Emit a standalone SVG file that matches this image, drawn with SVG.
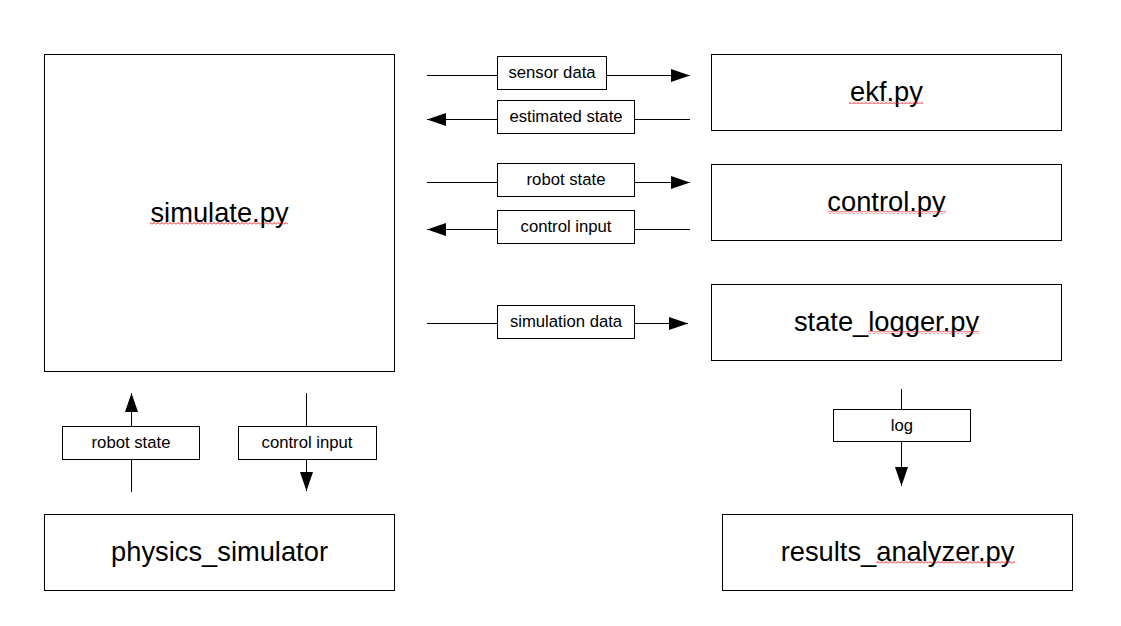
<svg xmlns="http://www.w3.org/2000/svg" width="1121" height="626" viewBox="0 0 1121 626">
<style>
.node{fill:#fff;stroke:#000;stroke-width:1}
.big{font-family:"Liberation Sans",Arial,sans-serif;font-size:27.3px;fill:#000;text-anchor:middle}
.lbl{font-family:"Liberation Sans",Arial,sans-serif;font-size:16.7px;fill:#000;text-anchor:middle}
.line{stroke:#000;stroke-width:1;fill:none}
.lblbox{fill:#fff;stroke:#000;stroke-width:1}
.squig{fill:url(#sq)}
</style>
<defs>
<pattern id="sq" width="4" height="3" patternUnits="userSpaceOnUse">
<path d="M0,2.5 L2,0.5 L4,2.5" fill="none" stroke="#e00" stroke-width="0.9"/>
</pattern>
<marker id="ah" markerWidth="19" markerHeight="13" refX="19" refY="6.5" orient="auto" markerUnits="userSpaceOnUse">
<path d="M0,0 L19,6.5 L0,13 Z" fill="#000"/>
</marker>
</defs>
<rect width="1121" height="626" fill="#fff"/>

<g id="connectors">
<g id="c-sensor">
<line class="line" x1="427" y1="75.5" x2="690" y2="75.5" marker-end="url(#ah)"/>
<rect class="lblbox" x="497.5" y="56.5" width="109" height="33"/>
<text class="lbl" x="552" y="78">sensor data</text>
</g>
<g id="c-estimated">
<line class="line" x1="690" y1="119.5" x2="427" y2="119.5" marker-end="url(#ah)"/>
<rect class="lblbox" x="497.5" y="100.5" width="137" height="33"/>
<text class="lbl" x="566" y="122">estimated state</text>
</g>
<g id="c-robotstate">
<line class="line" x1="427" y1="182.5" x2="690" y2="182.5" marker-end="url(#ah)"/>
<rect class="lblbox" x="497.5" y="163.5" width="137" height="33"/>
<text class="lbl" x="566" y="185">robot state</text>
</g>
<g id="c-controlinput">
<line class="line" x1="690" y1="229.5" x2="427" y2="229.5" marker-end="url(#ah)"/>
<rect class="lblbox" x="497.5" y="210.5" width="137" height="33"/>
<text class="lbl" x="566" y="232">control input</text>
</g>
<g id="c-simdata">
<line class="line" x1="427" y1="323.5" x2="688" y2="323.5" marker-end="url(#ah)"/>
<rect class="lblbox" x="497.5" y="305.5" width="137" height="33"/>
<text class="lbl" x="566" y="327">simulation data</text>
</g>
<g id="c-physrobot">
<line class="line" x1="131.5" y1="492" x2="131.5" y2="393" marker-end="url(#ah)"/>
<rect class="lblbox" x="62.5" y="426.5" width="137" height="33"/>
<text class="lbl" x="131" y="448">robot state</text>
</g>
<g id="c-physcontrol">
<line class="line" x1="306.5" y1="393" x2="306.5" y2="491" marker-end="url(#ah)"/>
<rect class="lblbox" x="238.5" y="426.5" width="138" height="33"/>
<text class="lbl" x="307" y="448">control input</text>
</g>
<g id="c-log">
<line class="line" x1="901.5" y1="389" x2="901.5" y2="486" marker-end="url(#ah)"/>
<rect class="lblbox" x="833.5" y="409.5" width="137" height="32"/>
<text class="lbl" x="902" y="430.5">log</text>
</g>
</g>

<g id="simulate">
<rect class="node" x="44.5" y="54.5" width="350" height="317"/>
<text class="big" x="219.5" y="222">simulate.py</text>
<rect class="squig" x="150" y="222" width="138" height="3"/>
</g>
<g id="ekf">
<rect class="node" x="711.5" y="54.5" width="350" height="76"/>
<text class="big" x="886.5" y="101">ekf.py</text>
<rect class="squig" x="849" y="101" width="74" height="3"/>
</g>
<g id="control">
<rect class="node" x="711.5" y="164.5" width="350" height="76"/>
<text class="big" x="886.5" y="211">control.py</text>
<rect class="squig" x="828" y="211" width="118" height="3"/>
</g>
<g id="state_logger">
<rect class="node" x="711.5" y="284.5" width="350" height="76"/>
<text class="big" x="886.5" y="331">state_logger.py</text>
<rect class="squig" x="868" y="331" width="111" height="3"/>
</g>
<g id="physics_simulator">
<rect class="node" x="44.5" y="514.5" width="350" height="76"/>
<text class="big" x="219.5" y="561">physics_simulator</text>
</g>
<g id="results_analyzer">
<rect class="node" x="722.5" y="514.5" width="350" height="76"/>
<text class="big" x="897.5" y="561">results_analyzer.py</text>
<rect class="squig" x="876" y="561" width="139" height="3"/>
</g>
</svg>
